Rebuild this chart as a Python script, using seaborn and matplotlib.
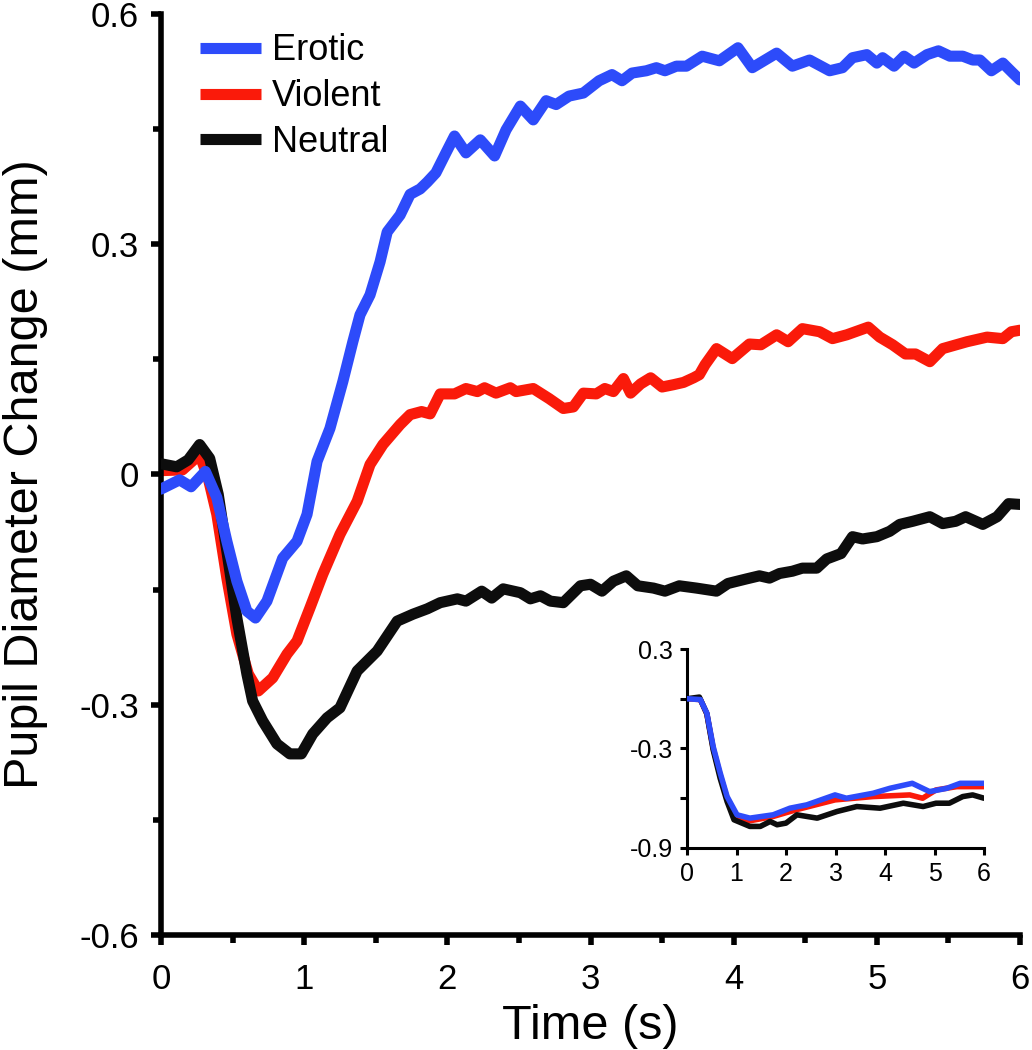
import pandas as pd
import matplotlib
matplotlib.use("Agg")
import matplotlib.pyplot as plt
import seaborn as sns
from matplotlib.ticker import MultipleLocator, FixedLocator, FixedFormatter

sns.set_style("ticks")
plt.rcParams['font.family'] = ['Liberation Sans', 'DejaVu Sans']
plt.rcParams['axes.unicode_minus'] = False
plt.rcParams['axes.edgecolor'] = 'black'
plt.rcParams['xtick.color'] = 'black'
plt.rcParams['ytick.color'] = 'black'
plt.rcParams['text.color'] = 'black'
plt.rcParams['axes.labelcolor'] = 'black'

# --- main panel data (time in s, pupil change in mm) ---
erotic_t = [0.0, 0.13, 0.21, 0.31, 0.39, 0.46, 0.53, 0.60, 0.66, 0.74, 0.85, 0.95,
            1.02, 1.09, 1.18, 1.27, 1.34, 1.39, 1.46, 1.53, 1.58, 1.67, 1.74, 1.81,
            1.86, 1.92, 1.99, 2.05, 2.13, 2.23, 2.33, 2.41, 2.51, 2.60, 2.69, 2.76,
            2.85, 2.95, 3.06, 3.15, 3.22, 3.29, 3.39, 3.46, 3.52, 3.60, 3.67, 3.78,
            3.90, 4.03, 4.13, 4.30, 4.41, 4.53, 4.67, 4.76, 4.83, 4.93, 5.00, 5.04,
            5.12, 5.19, 5.26, 5.35, 5.43, 5.51, 5.60, 5.67, 5.72, 5.80, 5.88, 5.95, 6.00]
erotic_y = [-0.019, -0.007, -0.016, 0.004, -0.03, -0.087, -0.139, -0.178, -0.187, -0.165, -0.109, -0.087,
            -0.052, 0.017, 0.06, 0.121, 0.173, 0.208, 0.234, 0.277, 0.316, 0.338, 0.365, 0.372,
            0.381, 0.393, 0.419, 0.441, 0.419, 0.436, 0.415, 0.449, 0.48, 0.462, 0.487, 0.482,
            0.493, 0.497, 0.513, 0.521, 0.513, 0.523, 0.526, 0.530, 0.526, 0.532, 0.532, 0.545,
            0.539, 0.556, 0.530, 0.549, 0.532, 0.540, 0.526, 0.530, 0.543, 0.547, 0.536, 0.543,
            0.532, 0.545, 0.536, 0.547, 0.552, 0.545, 0.545, 0.540, 0.540, 0.526, 0.536, 0.523, 0.514]

violent_t = [0.0, 0.15, 0.27, 0.33, 0.39, 0.46, 0.53, 0.61, 0.68, 0.78, 0.88, 0.95,
             1.04, 1.13, 1.25, 1.37, 1.46, 1.55, 1.67, 1.74, 1.82, 1.88, 1.95, 2.05,
             2.13, 2.21, 2.26, 2.34, 2.44, 2.48, 2.60, 2.71, 2.81, 2.88, 2.95, 3.04,
             3.10, 3.16, 3.23, 3.28, 3.35, 3.42, 3.50, 3.58, 3.65, 3.72, 3.76, 3.80,
             3.88, 3.99, 4.11, 4.19, 4.30, 4.38, 4.48, 4.60, 4.69, 4.79, 4.88, 4.94,
             5.02, 5.11, 5.20, 5.27, 5.37, 5.46, 5.63, 5.77, 5.88, 5.94, 6.00]
violent_y = [0.005, 0.006, 0.026, -0.005, -0.052, -0.135, -0.208, -0.26, -0.282, -0.265, -0.234, -0.217,
             -0.174, -0.130, -0.078, -0.035, 0.013, 0.039, 0.065, 0.078, 0.082, 0.079, 0.105, 0.105,
             0.112, 0.108, 0.113, 0.106, 0.113, 0.108, 0.112, 0.099, 0.086, 0.088, 0.106, 0.105,
             0.112, 0.108, 0.125, 0.106, 0.118, 0.126, 0.114, 0.117, 0.120, 0.126, 0.130, 0.143,
             0.164, 0.151, 0.170, 0.169, 0.182, 0.173, 0.190, 0.186, 0.177, 0.182, 0.188, 0.192,
             0.179, 0.169, 0.157, 0.157, 0.147, 0.164, 0.173, 0.179, 0.177, 0.186, 0.188]

neutral_t = [0.0, 0.11, 0.19, 0.27, 0.34, 0.40, 0.46, 0.53, 0.60, 0.64, 0.71, 0.81,
             0.90, 0.98, 1.06, 1.16, 1.25, 1.37, 1.51, 1.65, 1.76, 1.86, 1.95, 2.07,
             2.13, 2.24, 2.31, 2.39, 2.51, 2.58, 2.65, 2.72, 2.81, 2.93, 3.00, 3.08,
             3.16, 3.25, 3.33, 3.44, 3.52, 3.62, 3.74, 3.88, 3.96, 4.09, 4.18, 4.25,
             4.32, 4.41, 4.48, 4.58, 4.65, 4.75, 4.83, 4.90, 5.00, 5.09, 5.16, 5.25,
             5.37, 5.46, 5.55, 5.62, 5.74, 5.84, 5.92, 6.00]
neutral_y = [0.014, 0.010, 0.019, 0.039, 0.021, -0.026, -0.1, -0.187, -0.26, -0.295, -0.321, -0.351,
             -0.364, -0.364, -0.338, -0.317, -0.304, -0.256, -0.230, -0.191, -0.182, -0.175, -0.167, -0.162,
             -0.165, -0.152, -0.161, -0.149, -0.154, -0.162, -0.158, -0.165, -0.167, -0.145, -0.143, -0.152,
             -0.139, -0.132, -0.145, -0.148, -0.152, -0.145, -0.148, -0.152, -0.142, -0.136, -0.132, -0.135,
             -0.129, -0.126, -0.122, -0.122, -0.110, -0.103, -0.081, -0.084, -0.081, -0.074, -0.065, -0.061,
             -0.055, -0.064, -0.061, -0.055, -0.065, -0.055, -0.038, -0.039]

# --- inset data ---
in_erotic_t = [0.0, 0.27, 0.40, 0.53, 0.67, 0.81, 1.01, 1.27, 1.74, 2.08, 2.42, 2.99,
               3.22, 3.76, 4.10, 4.55, 4.90, 5.25, 5.52, 6.00]
in_erotic_y = [0.0, -0.005, -0.086, -0.29, -0.447, -0.59, -0.70, -0.72, -0.70, -0.66, -0.64, -0.58,
               -0.60, -0.57, -0.54, -0.51, -0.56, -0.54, -0.51, -0.51]
in_violent_t = [0.0, 0.27, 0.40, 0.53, 0.67, 0.81, 1.01, 1.20, 1.74, 2.20, 2.99, 3.76,
                4.50, 4.76, 5.03, 5.45, 6.00]
in_violent_y = [0.0, -0.005, -0.09, -0.30, -0.46, -0.60, -0.71, -0.74, -0.71, -0.67, -0.61, -0.59,
                -0.58, -0.60, -0.55, -0.53, -0.53]
in_neutral_t = [0.0, 0.25, 0.40, 0.53, 0.67, 0.81, 0.95, 1.27, 1.48, 1.68, 1.82, 2.00,
                2.22, 2.63, 3.03, 3.43, 3.90, 4.37, 4.77, 5.03, 5.30, 5.57, 5.77, 6.00]
in_neutral_y = [0.0, 0.01, -0.09, -0.31, -0.48, -0.62, -0.73, -0.77, -0.77, -0.74, -0.76, -0.75,
                -0.70, -0.72, -0.68, -0.65, -0.66, -0.63, -0.65, -0.63, -0.63, -0.59, -0.58, -0.60]

conditions = ['Erotic', 'Violent', 'Neutral']
colors = {'Erotic': '#2D4BFA', 'Violent': '#FA1A0A', 'Neutral': '#0D0D0D'}


def long_df(series):
    frames = []
    for name, (t, y) in series.items():
        frames.append(pd.DataFrame({'Time': t, 'Change': y, 'Condition': name}))
    return pd.concat(frames, ignore_index=True)


main_df = long_df({'Erotic': (erotic_t, erotic_y),
                   'Violent': (violent_t, violent_y),
                   'Neutral': (neutral_t, neutral_y)})
inset_df = long_df({'Erotic': (in_erotic_t, in_erotic_y),
                    'Violent': (in_violent_t, in_violent_y),
                    'Neutral': (in_neutral_t, in_neutral_y)})

fig = plt.figure(figsize=(10.32, 10.5), dpi=100)
ax = fig.add_axes([0.156, 0.1095, 0.8324, 0.8772])

# red underneath, then black, blue on top
draw_order = ['Violent', 'Neutral', 'Erotic']
for i, cond in enumerate(draw_order):
    sns.lineplot(data=main_df[main_df['Condition'] == cond], x='Time', y='Change',
                 color=colors[cond], linewidth=8, label=cond, ax=ax,
                 zorder=2 + i, solid_joinstyle='round', solid_capstyle='round')

ax.set_xlim(0, 6)
ax.set_ylim(-0.6, 0.6)
ax.xaxis.set_major_locator(MultipleLocator(1))
ax.xaxis.set_minor_locator(MultipleLocator(0.5))
ax.yaxis.set_major_locator(FixedLocator([-0.6, -0.3, 0, 0.3, 0.6]))
ax.yaxis.set_major_formatter(FixedFormatter(['-0.6', '-0.3', '0', '0.3', '0.6']))
ax.yaxis.set_minor_locator(FixedLocator([-0.45, -0.15, 0.15, 0.45]))
ax.set_xlabel('Time (s)', fontsize=35, labelpad=6)
ax.set_ylabel('Pupil Diameter Change (mm)', fontsize=35, labelpad=22)
ax.tick_params(axis='both', which='major', labelsize=25, width=4, length=7, direction='out')
ax.tick_params(axis='both', which='minor', width=4, length=6, direction='out')
ax.tick_params(axis='x', which='major', pad=13)
ax.tick_params(axis='y', which='major', pad=9)
for side in ['left', 'bottom']:
    ax.spines[side].set_linewidth(4)
sns.despine(ax=ax)

handles, labels = ax.get_legend_handles_labels()
by_label = dict(zip(labels, handles))
leg = ax.legend([by_label[c] for c in conditions], conditions, loc='upper left',
                bbox_to_anchor=(0.045, 0.979), frameon=False, fontsize=26,
                handlelength=1.7, handletextpad=0.3, labelspacing=0.3,
                borderpad=0, borderaxespad=0)
for line in leg.get_lines():
    line.set_solid_capstyle('butt')

# inset
axin = fig.add_axes([0.6657, 0.1924, 0.2878, 0.1895])
for i, cond in enumerate(draw_order):
    sns.lineplot(data=inset_df[inset_df['Condition'] == cond], x='Time', y='Change',
                 color=colors[cond], linewidth=4, ax=axin, zorder=2 + i, legend=False,
                 solid_joinstyle='round', solid_capstyle='round')
axin.set_xlim(0, 6)
axin.set_ylim(-0.9, 0.3)
axin.xaxis.set_major_locator(MultipleLocator(1))
axin.yaxis.set_major_locator(FixedLocator([-0.9, -0.3, 0.3]))
axin.yaxis.set_major_formatter(FixedFormatter(['-0.9', '-0.3', '0.3']))
axin.yaxis.set_minor_locator(FixedLocator([-0.6, 0]))
axin.set_xlabel('')
axin.set_ylabel('')
axin.tick_params(axis='both', which='major', labelsize=18, width=2.2, length=5, direction='out', pad=5)
axin.tick_params(axis='both', which='minor', width=2.2, length=5, direction='out')
for side in ['left', 'bottom']:
    axin.spines[side].set_linewidth(2.2)
sns.despine(ax=axin)
axin.patch.set_alpha(0)

fig.savefig('out.png', dpi=100)
